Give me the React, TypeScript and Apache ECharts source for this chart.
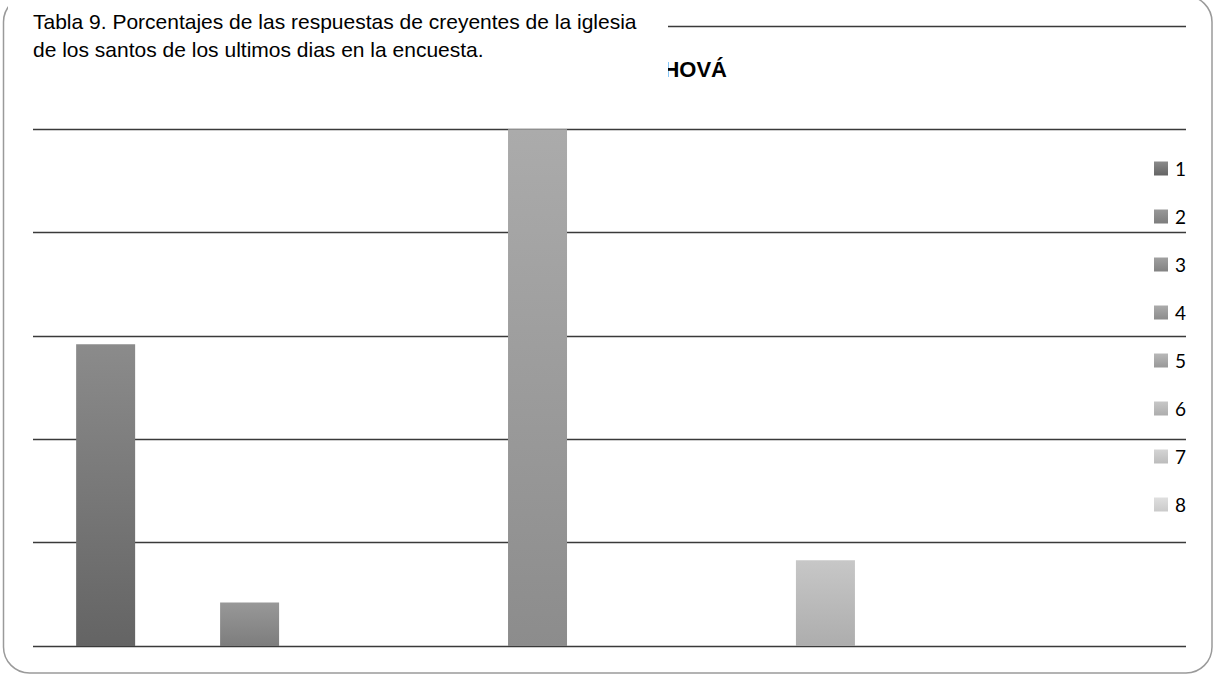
import React, { useEffect, useRef } from "react";
import * as echarts from "echarts";

const categories = ["Respuestas"];
const seriesNames = ["1", "2", "3", "4", "5", "6", "7", "8"];
const seriesValues = [29.2, 4.2, 0, 50, 0, 8.3, 0, 0];
const yMin = 0;
const yMax = 60;
const yInterval = 10;
const titleText = "JEHOVÁ";
const captionLines = [
  "Tabla 9. Porcentajes de las respuestas de creyentes de la iglesia",
  "de los santos de los ultimos dias en la encuesta.",
];

const gradients: [string, string][] = [
  ["#8b8b8b", "#646464"],
  ["#989898", "#7d7d7d"],
  ["#a0a0a0", "#828282"],
  ["#ababab", "#8c8c8c"],
  ["#b8b8b8", "#989898"],
  ["#c7c7c7", "#adadad"],
  ["#d4d4d4", "#bcbcbc"],
  ["#dfdfdf", "#cacaca"],
];

export default function App() {
  const ref = useRef<HTMLDivElement>(null);
  useEffect(() => {
    if (!ref.current) return;
    const chart = echarts.init(ref.current, undefined, { renderer: "svg" });
    chart.setOption({
      animation: false,
      backgroundColor: "#ffffff",
      title: {
        text: titleText,
        right: 487,
        top: 58,
        textStyle: {
          fontFamily: "Liberation Sans",
          fontWeight: "bold",
          fontSize: 22,
          color: "#000",
        },
        padding: 0,
      },
      legend: {
        orient: "vertical",
        left: 1154,
        top: 159,
        itemWidth: 14,
        itemHeight: 14,
        itemGap: 29,
        icon: "rect",
        padding: 0,
        data: seriesNames,
        textStyle: {
          fontFamily: "Lato",
          fontSize: 19,
          color: "#000",
          padding: [0, 0, 0, 2],
        },
      },
      grid: { left: 33, right: 28, top: 26, bottom: 30, containLabel: false },
      xAxis: {
        type: "category",
        data: categories,
        axisLine: { show: false },
        axisTick: { show: false },
        axisLabel: { show: false },
      },
      yAxis: {
        type: "value",
        min: yMin,
        max: yMax,
        interval: yInterval,
        axisLine: { show: false },
        axisTick: { show: false },
        axisLabel: { show: false },
        splitLine: { lineStyle: { color: "#3a3a3a", width: 1.4 } },
      },
      series: seriesNames.map((name, i) => ({
        name,
        type: "bar",
        data: [seriesValues[i]],
        barWidth: 59,
        barGap: "144%",
        itemStyle: {
          color: new echarts.graphic.LinearGradient(0, 0, 0, 1, [
            { offset: 0, color: gradients[i][0] },
            { offset: 1, color: gradients[i][1] },
          ]),
        },
      })),
      graphic: [
        {
          type: "rect",
          z: 100,
          silent: true,
          shape: { x: 3.5, y: -4, width: 1208.5, height: 677, r: 26 },
          style: { fill: "none", stroke: "#9a9a9a", lineWidth: 1.5 },
        },
        {
          type: "rect",
          z: 101,
          silent: true,
          shape: { x: 8, y: 0, width: 660, height: 104 },
          style: { fill: "#ffffff" },
        },
        {
          type: "text",
          z: 102,
          silent: true,
          x: 33,
          y: 7,
          style: {
            text: captionLines.join("\n"),
            fontFamily: "Liberation Sans",
            fontSize: 21,
            lineHeight: 28,
            fill: "#000",
          },
        },
      ],
    });
    return () => chart.dispose();
  }, []);
  return <div ref={ref} style={{ width: 1214, height: 676, position: "fixed", left: 0, top: 0 }} />;
}
